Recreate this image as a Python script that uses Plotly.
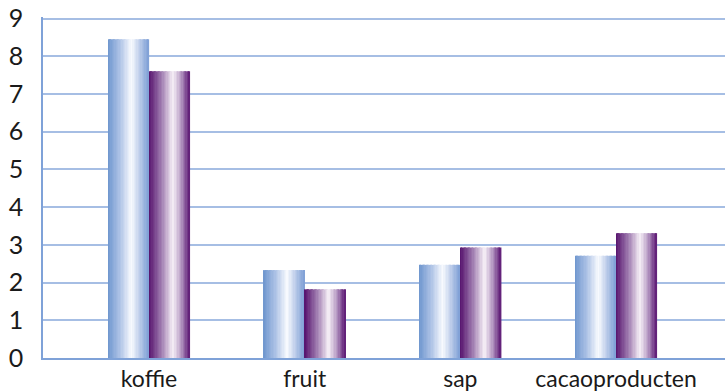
import plotly.graph_objects as go
import numpy as np

categories = ["koffie", "fruit", "sap", "cacaoproducten"]
series_a = [8.45, 2.33, 2.47, 2.71]
series_b = [7.6, 1.82, 2.93, 3.31]
y_ticks = [0, 1, 2, 3, 4, 5, 6, 7, 8, 9]

def hex2rgb(h):
    h = h.lstrip("#")
    return np.array([int(h[i:i + 2], 16) for i in (0, 2, 4)], dtype=float)

def grad_color(stops, t):
    for (t0, c0), (t1, c1) in zip(stops[:-1], stops[1:]):
        if t0 <= t <= t1:
            f = (t - t0) / (t1 - t0) if t1 > t0 else 0
            c = hex2rgb(c0) * (1 - f) + hex2rgb(c1) * f
            return "rgb(%d,%d,%d)" % tuple(np.round(c))
    return stops[-1][1]

blue_stops = [(0.0, "#6d95ce"), (0.3, "#aec3e6"), (0.58, "#f8fafe"), (0.8, "#b7c8e8"), (1.0, "#7d9fd5")]
purple_stops = [(0.0, "#55116c"), (0.3, "#9c77ad"), (0.6, "#f8f2f8"), (0.8, "#b294c0"), (1.0, "#5c1874")]

bar_w = 0.263
n_slices = 30
fig = go.Figure()
for vals, stops, base_off in [(series_a, blue_stops, -bar_w), (series_b, purple_stops, 0.0)]:
    sw = bar_w / n_slices
    for i in range(n_slices):
        t = (i + 0.5) / n_slices
        fig.add_trace(go.Bar(
            x=categories, y=vals,
            width=sw * 1.08, offset=base_off + i * sw,
            marker=dict(color=grad_color(stops, t), line=dict(width=0)),
            showlegend=False, hoverinfo="skip",
        ))

fig.update_layout(
    width=725, height=391,
    margin=dict(l=43, r=0, t=17, b=33),
    paper_bgcolor="white", plot_bgcolor="white",
    barmode="overlay",
    font=dict(family="Lato, Open Sans, sans-serif", size=23, color="#1a1a1a"),
    xaxis=dict(
        type="category", range=[-0.681, 3.70],
        showgrid=False, showline=True, linecolor="#7fa2d8", linewidth=1.5,
        ticks="", tickfont=dict(size=23),
    ),
    yaxis=dict(
        range=[0, 9.04], tickvals=y_ticks, ticktext=[str(v) for v in y_ticks],
        showgrid=True, gridcolor="#a6bee4", gridwidth=1.5,
        showline=True, linecolor="#7fa2d8", linewidth=1.5,
        zeroline=False, ticks="outside", ticklen=13, tickcolor="rgba(0,0,0,0)",
        tickfont=dict(size=25),
    ),
)

fig.write_html("out.html")
